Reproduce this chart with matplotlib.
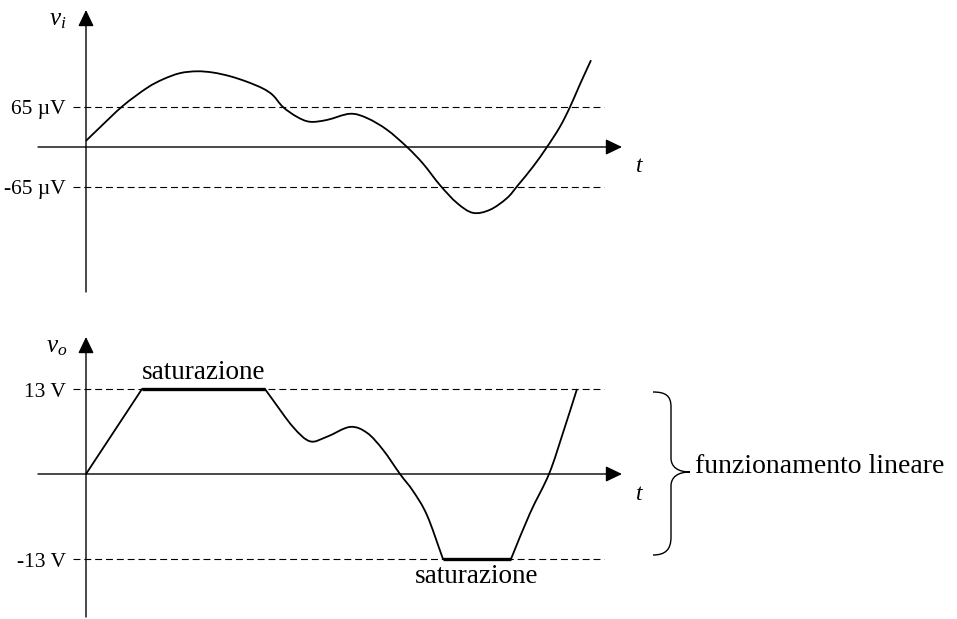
import matplotlib
matplotlib.use("Agg")
import matplotlib.pyplot as plt
from matplotlib.path import Path
from matplotlib.patches import PathPatch
from matplotlib.transforms import ScaledTranslation

plt.rcParams['font.family'] = ['Liberation Serif', 'DejaVu Serif']
plt.rcParams['mathtext.fontset'] = 'custom'
plt.rcParams['mathtext.rm'] = 'Liberation Serif'
plt.rcParams['mathtext.it'] = 'Liberation Serif:italic'
plt.rcParams['lines.scale_dashes'] = False

# ---------------- data ----------------
# input signal v_i (time in arbitrary units, voltage in microvolts)
t_in = [0.00, 0.28, 0.74, 1.22, 1.54, 1.88, 2.22, 2.54, 2.88, 3.22, 3.54, 3.74,
        3.94, 4.22, 4.48, 4.82, 5.28, 5.62, 6.02, 6.42, 6.74, 7.08, 7.42, 7.74,
        8.08, 8.42, 8.64, 8.94, 9.22, 9.48, 9.68, 9.88, 10.10]
v_in = [10, 32, 67, 96, 110, 120, 123, 121, 115, 106, 95, 84,
        65, 49, 41, 44, 54, 47, 28, 0, -27, -62, -91, -107,
        -102, -83, -62, -32, 0, 33, 65, 102, 141]

# output signal v_o (volts)
t_out = [0.00, 1.12, 3.58, 3.74, 4.14, 4.48, 4.82, 5.28, 5.62, 5.94, 6.28, 6.54,
         6.82, 7.14, 8.50, 8.88, 9.26, 9.54, 9.82]
v_out = [0.0, 13.0, 13.0, 11.3, 7.2, 5.0, 5.7, 7.2, 6.3, 3.7, 0.0, -2.6,
         -6.3, -13.0, -13.0, -6.0, 0.0, 6.3, 13.0]
# indices of v_out where the trace has a sharp corner (entering/leaving saturation)
corners_out = [0, 1, 2, 13, 14, 18]

# saturation intervals
sat_hi_t = [1.12, 3.58]
sat_lo_t = [7.14, 8.50]

vi_threshold = 65      # microvolts
vo_sat = 13            # volts
labels_in = ['65 \u00b5V', '-65 \u00b5V']
labels_out = ['13 V', '-13 V']
sat_label = 'saturazione'
brace_label = 'funzionamento lineare'

# ---------------- layout ----------------
W, H = 957, 619
DPI = 100
fig = plt.figure(figsize=(W / DPI, H / DPI), dpi=DPI)
fig.patch.set_facecolor('white')

PX_T = 50.0          # pixels per time unit
X0 = 86              # pixel x of time origin
ax_top = fig.add_axes([0, 1 - 300 / H, 1, 300 / H])
ax_bot = fig.add_axes([0, 0, 1, 319 / H])
for ax in (ax_top, ax_bot):
    ax.set_xlim(-X0 / PX_T, (W - X0) / PX_T)
    ax.axis('off')

K_TOP = 65 / 40.0    # microvolts per pixel
Y0_TOP = 147
ax_top.set_ylim((Y0_TOP - 300) * K_TOP, Y0_TOP * K_TOP)
K_BOT = 13 / 85.0    # volts per pixel
Y0_BOT = 474
ax_bot.set_ylim((Y0_BOT - 619) * K_BOT, (Y0_BOT - 300) * K_BOT)

t_left = (38 - X0) / PX_T
t_tip = (622 - X0) / PX_T
t_dash0 = (73 - X0) / PX_T
t_dash1 = (604 - X0) / PX_T
t_lab = (66 - X0) / PX_T

arrow_style = '-|>,head_length=10,head_width=4.8'


def axes_arrow(ax, start, tip):
    ax.annotate('', xy=tip, xytext=start,
                arrowprops=dict(arrowstyle=arrow_style, color='black', lw=1.0,
                                shrinkA=0, shrinkB=0, mutation_scale=1))


def px_offset(dy_px):
    return ScaledTranslation(0, -dy_px / DPI, fig.dpi_scale_trans)


def smooth_path(xs, ys, corners=()):
    """Smooth (Catmull-Rom style Bezier) rendering through the given points;
    tangents are one-sided at the listed corner indices."""
    n = len(xs)
    corners = set(corners) | {0, n - 1}
    verts = [(xs[0], ys[0])]
    codes = [Path.MOVETO]

    def tangent(i, side):
        if i in corners:
            j = i + 1 if side > 0 else i - 1
            return ((xs[j] - xs[i]) * side, (ys[j] - ys[i]) * side)
        return ((xs[i + 1] - xs[i - 1]) / 2.0, (ys[i + 1] - ys[i - 1]) / 2.0)

    for i in range(n - 1):
        if i in corners and (i + 1) in corners:
            verts.append((xs[i + 1], ys[i + 1]))
            codes.append(Path.LINETO)
            continue
        m0 = tangent(i, +1)
        m1 = tangent(i + 1, -1)
        c1 = (xs[i] + m0[0] / 3.0, ys[i] + m0[1] / 3.0)
        c2 = (xs[i + 1] - m1[0] / 3.0, ys[i + 1] - m1[1] / 3.0)
        verts += [c1, c2, (xs[i + 1], ys[i + 1])]
        codes += [Path.CURVE4] * 3
    return Path(verts, codes)


def draw_curve(ax, xs, ys, corners=(), lw=1.3):
    ax.add_patch(PathPatch(smooth_path(xs, ys, corners), fill=False,
                           edgecolor='black', lw=lw, joinstyle='round',
                           capstyle='butt', transform=ax.transData))


dash_kw = dict(color='black', lw=0.8, linestyle=(0, (5.0, 2.8)))

# ---- top panel ----
axes_arrow(ax_top, (t_left, 0), (t_tip, 0))
axes_arrow(ax_top, (0, (Y0_TOP - 292) * K_TOP), (0, (Y0_TOP - 10) * K_TOP))
for lev, lab in zip([vi_threshold, -vi_threshold], labels_in):
    ax_top.plot([t_dash0, t_dash1], [lev, lev], **dash_kw)
    ax_top.text(t_lab, lev, lab, ha='right', va='baseline', fontsize=15.5,
                transform=ax_top.transData + px_offset(7))
draw_curve(ax_top, t_in, v_in)

# ---- bottom panel ----
axes_arrow(ax_bot, (t_left, 0), (t_tip, 0))
axes_arrow(ax_bot, (0, (Y0_BOT - 617) * K_BOT), (0, (Y0_BOT - 337) * K_BOT))
for lev, lab in zip([vo_sat, -vo_sat], labels_out):
    ax_bot.plot([t_dash0, t_dash1], [lev, lev], **dash_kw)
    ax_bot.text(t_lab, lev, lab, ha='right', va='baseline', fontsize=15.5,
                transform=ax_bot.transData + px_offset(8))
draw_curve(ax_bot, t_out, v_out, corners_out)
ax_bot.plot(sat_hi_t, [vo_sat, vo_sat], color='black', lw=2.4, solid_capstyle='butt')
ax_bot.plot(sat_lo_t, [-vo_sat, -vo_sat], color='black', lw=2.4, solid_capstyle='butt')

ax_bot.text(sum(sat_hi_t) / 2, vo_sat, sat_label, ha='center', va='baseline',
            fontsize=19.5, transform=ax_bot.transData + px_offset(-10))
ax_bot.text(sum(sat_lo_t) / 2, -vo_sat, sat_label, ha='center', va='baseline',
            fontsize=19.5, transform=ax_bot.transData + px_offset(24))


# ---- figure-level annotations (pixel positions) ----
def fp(x, y):
    return (x / W, 1 - y / H)


fig.text(*fp(66, 25), r'$v_i$', ha='right', va='baseline', fontsize=18)
fig.text(*fp(67, 352), r'$v_o$', ha='right', va='baseline', fontsize=18)
fig.text(*fp(640, 172), r'$t$', ha='center', va='baseline', fontsize=17)
fig.text(*fp(640, 500), r'$t$', ha='center', va='baseline', fontsize=17)
fig.text(*fp(695, 473), brace_label, ha='left', va='baseline', fontsize=20)

brace_pts = [(653, 392), (666, 392), (671, 396), (671, 407), (671, 458),
             (671, 467), (678, 472), (690, 472),
             (678, 472), (671, 477), (671, 486), (671, 537),
             (671, 549), (666, 555), (653, 555)]
codes = [Path.MOVETO, Path.CURVE4, Path.CURVE4, Path.CURVE4, Path.LINETO,
         Path.CURVE4, Path.CURVE4, Path.CURVE4,
         Path.CURVE4, Path.CURVE4, Path.CURVE4, Path.LINETO,
         Path.CURVE4, Path.CURVE4, Path.CURVE4]
brace = Path([fp(x, y) for x, y in brace_pts], codes)
fig.patches.append(PathPatch(brace, transform=fig.transFigure, fill=False,
                             edgecolor='black', lw=1.0))

fig.savefig('out.png', dpi=DPI, facecolor='white')
